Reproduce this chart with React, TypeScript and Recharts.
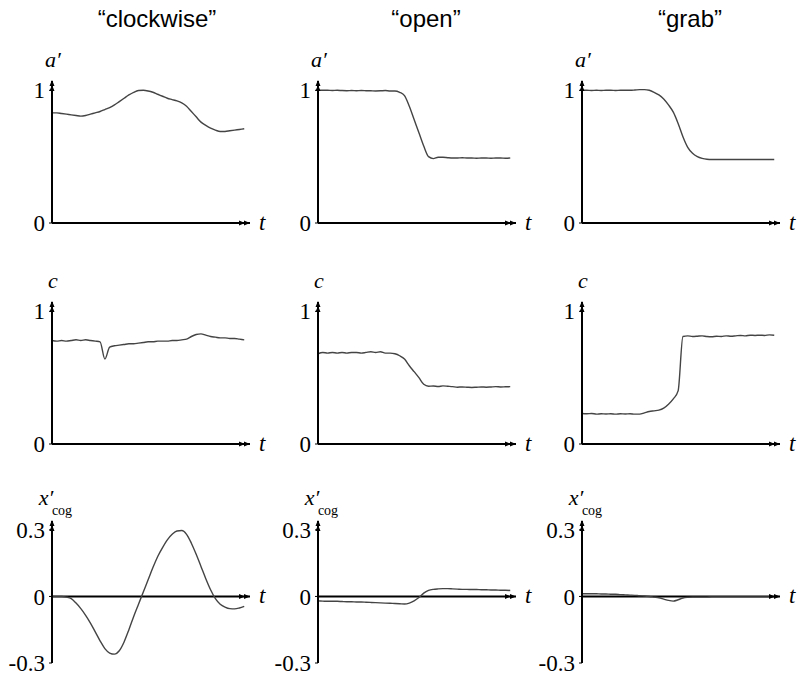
import { LineChart, Line, XAxis, YAxis, ReferenceLine, ReferenceDot } from 'recharts';

// time samples (normalised, 0..100)
const T = [
  0, 2.5, 5, 7.5, 10, 12.5, 15, 17.5, 20, 22.5, 25, 27.5, 30, 32.5, 35, 37.5, 40, 42.5, 45, 47.5,
  50, 52.5, 55, 57.5, 60, 62.5, 65, 67.5, 70, 72.5, 75, 77.5, 80, 82.5, 85, 87.5, 90, 92.5, 95, 97.5, 100,
];

const TITLES = ['“clockwise”', '“open”', '“grab”'];

// a' per gesture
const cwA = [0.83, 0.83, 0.825, 0.82, 0.815, 0.81, 0.805, 0.81, 0.82, 0.83, 0.84, 0.855, 0.87, 0.89, 0.915, 0.94, 0.965, 0.985, 0.998, 1.0, 0.995, 0.985, 0.97, 0.955, 0.94, 0.93, 0.92, 0.905, 0.88, 0.84, 0.8, 0.76, 0.735, 0.715, 0.7, 0.69, 0.69, 0.695, 0.7, 0.705, 0.71];
const openA = [1.0, 1.0, 1.0, 0.998, 1.0, 0.998, 0.997, 0.998, 0.997, 0.998, 0.997, 0.996, 0.995, 0.996, 0.998, 0.995, 0.995, 0.985, 0.96, 0.88, 0.78, 0.68, 0.58, 0.5, 0.485, 0.495, 0.495, 0.492, 0.49, 0.49, 0.492, 0.49, 0.49, 0.488, 0.49, 0.49, 0.488, 0.49, 0.49, 0.488, 0.49];
const grabA = [1.0, 1.0, 0.998, 1.0, 0.998, 1.0, 1.0, 0.998, 1.0, 1.0, 1.0, 1.002, 1.005, 1.005, 1.0, 0.985, 0.965, 0.935, 0.89, 0.835, 0.75, 0.65, 0.57, 0.525, 0.5, 0.487, 0.48, 0.478, 0.478, 0.478, 0.478, 0.478, 0.478, 0.478, 0.478, 0.478, 0.478, 0.478, 0.478, 0.478, 0.478];

// c per gesture
const cwC = [0.78, 0.775, 0.78, 0.775, 0.78, 0.785, 0.78, 0.785, 0.78, 0.775, 0.77, 0.64, 0.73, 0.74, 0.745, 0.75, 0.755, 0.755, 0.76, 0.765, 0.77, 0.77, 0.775, 0.775, 0.775, 0.78, 0.78, 0.785, 0.79, 0.81, 0.825, 0.83, 0.82, 0.81, 0.805, 0.8, 0.8, 0.795, 0.795, 0.79, 0.785];
const openC = [0.68, 0.69, 0.685, 0.69, 0.685, 0.69, 0.685, 0.69, 0.69, 0.685, 0.69, 0.695, 0.69, 0.695, 0.685, 0.685, 0.68, 0.665, 0.64, 0.59, 0.545, 0.5, 0.45, 0.435, 0.437, 0.433, 0.438, 0.435, 0.432, 0.428, 0.43, 0.428, 0.426, 0.428, 0.43, 0.428, 0.43, 0.432, 0.43, 0.431, 0.432];
const grabC = [0.23, 0.228, 0.23, 0.225, 0.228, 0.226, 0.228, 0.225, 0.228, 0.226, 0.228, 0.225, 0.225, 0.235, 0.245, 0.25, 0.255, 0.27, 0.3, 0.34, 0.4, 0.81, 0.815, 0.81, 0.812, 0.815, 0.81, 0.808, 0.812, 0.81, 0.815, 0.812, 0.815, 0.818, 0.815, 0.82, 0.818, 0.82, 0.818, 0.822, 0.82];

// x'cog per gesture
const cwX = [0, 0, 0, -0.003, -0.01, -0.03, -0.055, -0.085, -0.12, -0.16, -0.2, -0.235, -0.255, -0.26, -0.245, -0.205, -0.15, -0.09, -0.035, 0.02, 0.075, 0.13, 0.18, 0.22, 0.255, 0.28, 0.295, 0.297, 0.28, 0.24, 0.19, 0.135, 0.08, 0.03, -0.01, -0.035, -0.048, -0.055, -0.056, -0.052, -0.045];
const openX = [-0.02, -0.021, -0.022, -0.022, -0.022, -0.023, -0.024, -0.024, -0.025, -0.025, -0.026, -0.027, -0.028, -0.029, -0.03, -0.031, -0.032, -0.033, -0.034, -0.03, -0.02, -0.005, 0.015, 0.027, 0.032, 0.034, 0.035, 0.035, 0.034, 0.033, 0.032, 0.032, 0.031, 0.031, 0.03, 0.03, 0.029, 0.029, 0.028, 0.028, 0.027];
const grabX = [0.012, 0.012, 0.012, 0.012, 0.011, 0.011, 0.01, 0.01, 0.008, 0.007, 0.006, 0.005, 0.003, 0.002, 0, -0.003, -0.006, -0.012, -0.018, -0.021, -0.015, -0.007, -0.004, -0.003, -0.003, -0.003, -0.003, -0.002, -0.002, -0.002, -0.002, -0.002, -0.002, -0.002, -0.002, -0.002, -0.002, -0.002, -0.002, -0.002, -0.002];

const data = T.map((t, i) => ({
  t,
  cwA: cwA[i], openA: openA[i], grabA: grabA[i],
  cwC: cwC[i], openC: openC[i], grabC: grabC[i],
  cwX: cwX[i], openX: openX[i], grabX: grabX[i],
}));

const COL_X = [52, 318, 582];
const ROW_TOP = [81, 302, 521];
const TITLE_X = [157, 426, 690];
const PLOT_W = 198;
const PLOT_H = 142;
const X_MAX = 103;
const Y_AXIS_W = 48;
const SERIF = '"Liberation Serif", "Times New Roman", serif';
const SANS = '"Liberation Sans", Arial, sans-serif';

const ROWS = [
  { keys: ['cwA', 'openA', 'grabA'], domain: [0, 1.07], ticks: [0, 1], label: 'a′', sub: '' },
  { keys: ['cwC', 'openC', 'grabC'], domain: [0, 1.07], ticks: [0, 1], label: 'c', sub: '' },
  { keys: ['cwX', 'openX', 'grabX'], domain: [-0.3, 0.34], ticks: [-0.3, 0, 0.3], label: 'x′', sub: 'cog' },
];

const XArrow = (props: any) => {
  const { cx, cy } = props;
  return (
    <g>
      <path d={`M${cx - 6},${cy - 2.5} L${cx},${cy} L${cx - 6},${cy + 2.5} Z`} fill="#000" />
      <path d={`M${cx - 11},${cy - 2.5} L${cx - 5},${cy} L${cx - 11},${cy + 2.5} Z`} fill="#000" />
      <text x={cx + 9} y={cy + 7} fontFamily={SERIF} fontStyle="italic" fontSize={23} fill="#000">t</text>
    </g>
  );
};

const makeYArrow = (label: string, sub: string) => (props: any) => {
  const { cx, cy } = props;
  return (
    <g>
      <path d={`M${cx - 2.5},${cy + 5} L${cx},${cy - 1} L${cx + 2.5},${cy + 5} Z`} fill="#000" />
      <path d={`M${cx - 2.5},${cy + 10} L${cx},${cy + 4} L${cx + 2.5},${cy + 10} Z`} fill="#000" />
      <text x={sub ? cx - 6 : cx + 1} y={sub ? cy - 16 : cy - 14} textAnchor="middle" fontFamily={SERIF} fontStyle="italic" fontSize={22} fill="#000">
        {label}
      </text>
      {sub ? (
        <text x={cx + 10} y={cy - 6} textAnchor="middle" fontFamily={SERIF} fontSize={14} fill="#000">{sub}</text>
      ) : null}
    </g>
  );
};

function Panel({ col, row }: { col: number; row: number }) {
  const cfg = ROWS[row];
  const key = cfg.keys[col];
  const margin = { top: 40, right: 20, left: 4, bottom: 20 };
  const axisOffset = margin.left + Y_AXIS_W;
  return (
    <div style={{ position: 'absolute', left: COL_X[col] - axisOffset, top: ROW_TOP[row] - margin.top }}>
      <LineChart
        width={axisOffset + PLOT_W + margin.right}
        height={margin.top + PLOT_H + margin.bottom}
        data={data}
        margin={margin}
      >
        <XAxis dataKey="t" type="number" domain={[0, X_MAX]} hide />
        <YAxis
          width={Y_AXIS_W}
          domain={cfg.domain}
          ticks={cfg.ticks}
          allowDataOverflow
          axisLine={{ stroke: '#000', strokeWidth: 2 }}
          tickLine={{ stroke: '#000' }}
          tickSize={3}
          tickMargin={4}
          tick={{ fill: '#000', fontSize: 23, fontFamily: SERIF }}
        />
        <ReferenceLine y={0} stroke="#000" strokeWidth={2} />
        <Line
          type="monotone"
          dataKey={key}
          stroke="#444"
          strokeWidth={1.4}
          dot={false}
          isAnimationActive={false}
        />
        <ReferenceDot x={X_MAX} y={0} r={0} ifOverflow="visible" shape={XArrow} />
        <ReferenceDot x={0} y={cfg.domain[1]} r={0} ifOverflow="visible" shape={makeYArrow(cfg.label, cfg.sub)} />
      </LineChart>
    </div>
  );
}

export default function App() {
  return (
    <div style={{ position: 'absolute', left: 0, top: 0, width: 798, height: 675, overflow: 'hidden', background: '#fff' }}>
      {TITLES.map((title, i) => (
        <div
          key={title}
          style={{
            position: 'absolute',
            left: TITLE_X[i] - 100,
            width: 200,
            top: 5,
            textAlign: 'center',
            fontFamily: SANS,
            fontSize: 24,
            color: '#000',
          }}
        >
          {title}
        </div>
      ))}
      {[0, 1, 2].map((row) => [0, 1, 2].map((col) => <Panel key={`${row}-${col}`} row={row} col={col} />))}
    </div>
  );
}
